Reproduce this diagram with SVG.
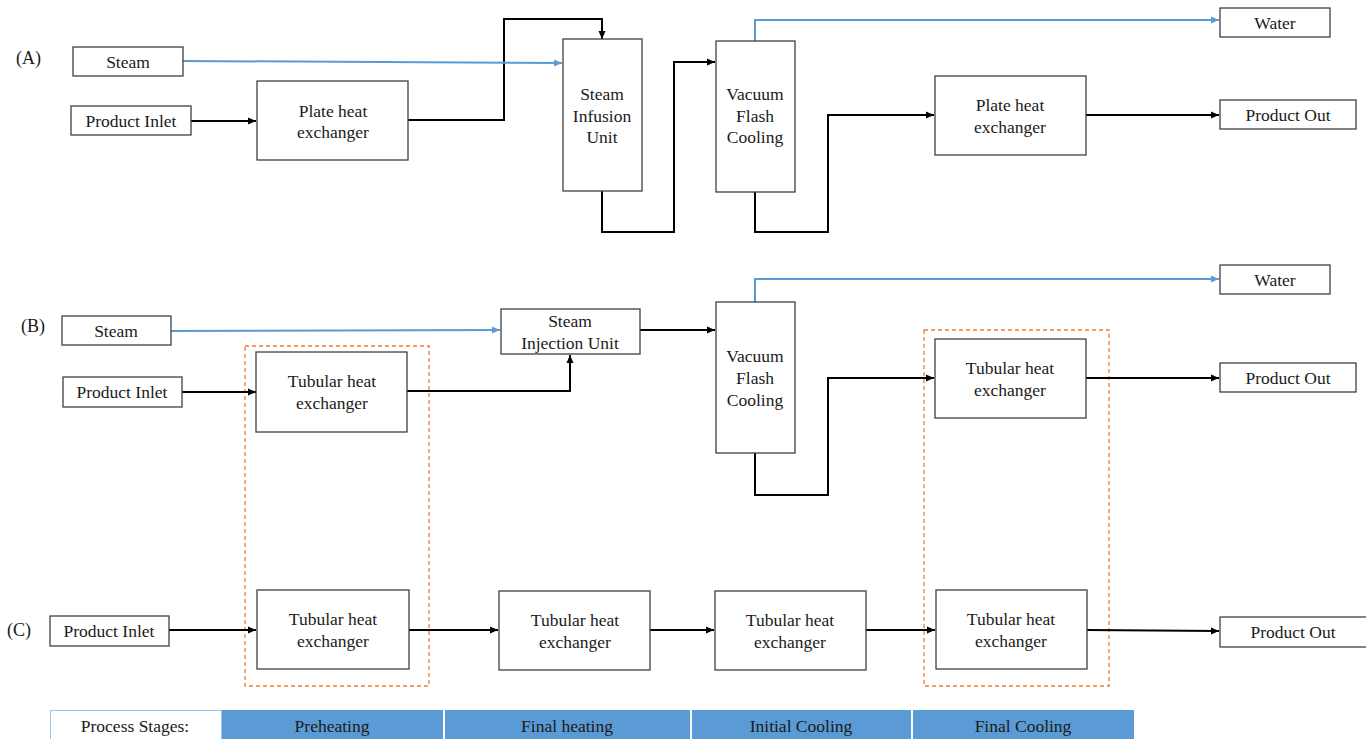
<svg xmlns="http://www.w3.org/2000/svg" width="1366" height="739" viewBox="0 0 1366 739">
<defs>
<marker id="ab" markerUnits="userSpaceOnUse" markerWidth="9" markerHeight="8" refX="8" refY="4" orient="auto"><path d="M0,0.5 L8,4 L0,7.5 z" fill="#000"/></marker>
<marker id="au" markerUnits="userSpaceOnUse" markerWidth="9" markerHeight="8" refX="8" refY="4" orient="auto"><path d="M0,0.5 L8,4 L0,7.5 z" fill="#5b9bd5"/></marker>
<style>
.box{fill:#fff;stroke:#404040;stroke-width:1.3}
.t{font-family:"Liberation Serif","Times New Roman",serif;font-size:17.5px;fill:#1a1a1a;text-anchor:middle}
.lbl{font-family:"Liberation Serif","Times New Roman",serif;font-size:18px;fill:#1a1a1a}
.c{fill:none;stroke:#000;stroke-width:2;marker-end:url(#ab)}
.s{fill:none;stroke:#5b9bd5;stroke-width:2;marker-end:url(#au)}
.dash{fill:none;stroke:#ed7d31;stroke-width:1.3;stroke-dasharray:4 3}
.stage{fill:#5b9bd5}
</style>
</defs>
<rect width="1366" height="739" fill="#fff"/>

<g id="groups">
<rect class="dash" x="245" y="346" width="184" height="340"/>
<rect class="dash" x="924" y="330" width="185" height="356"/>
</g>

<g id="connectors">
<path class="c" d="M191,121 H256"/>
<path class="c" d="M408,120 H504 V19 H602 V39"/>
<path class="s" d="M183,61 L562,63"/>
<path class="c" d="M602,191 V232 H674 V62 H715"/>
<path class="s" d="M755,41 V20 H1219"/>
<path class="c" d="M755,192 V232 H828 V115 H934"/>
<path class="c" d="M1086,115 H1219"/>

<path class="s" d="M171,331 L500,330"/>
<path class="c" d="M182,392 H256"/>
<path class="c" d="M407,391 H570 V355"/>
<path class="c" d="M640,330 H715"/>
<path class="s" d="M755,302 V279 H1219"/>
<path class="c" d="M755,453 V495 H828 V378 H934"/>
<path class="c" d="M1086,378 H1219"/>

<path class="c" d="M169,630 H256"/>
<path class="c" d="M409,630 H498"/>
<path class="c" d="M650,630 H714"/>
<path class="c" d="M866,630 H935"/>
<path class="c" d="M1087,630 L1219,631"/>
</g>

<text class="lbl" x="16" y="64">(A)</text>
<text class="lbl" x="21" y="332">(B)</text>
<text class="lbl" x="7" y="636">(C)</text>

<g id="a-steam"><rect class="box" x="73" y="47" width="110" height="29"/><text class="t" x="128" y="68">Steam</text></g>
<g id="a-inlet"><rect class="box" x="71" y="106" width="120" height="29"/><text class="t" x="131" y="127">Product Inlet</text></g>
<g id="a-phe1"><rect class="box" x="257" y="81" width="151" height="79"/><text class="t" x="333" y="117">Plate heat</text><text class="t" x="333" y="138">exchanger</text></g>
<g id="a-siu"><rect class="box" x="563" y="39" width="79" height="152"/><text class="t" x="602" y="100">Steam</text><text class="t" x="602" y="122">Infusion</text><text class="t" x="602" y="143">Unit</text></g>
<g id="a-vfc"><rect class="box" x="716" y="41" width="79" height="151"/><text class="t" x="755" y="100">Vacuum</text><text class="t" x="755" y="122">Flash</text><text class="t" x="755" y="143">Cooling</text></g>
<g id="a-phe2"><rect class="box" x="935" y="76" width="151" height="79"/><text class="t" x="1010" y="111">Plate heat</text><text class="t" x="1010" y="133">exchanger</text></g>
<g id="a-water"><rect class="box" x="1220" y="8" width="110" height="29"/><text class="t" x="1275" y="29">Water</text></g>
<g id="a-out"><rect class="box" x="1220" y="100" width="136" height="29"/><text class="t" x="1288" y="121">Product Out</text></g>

<g id="b-steam"><rect class="box" x="62" y="316" width="109" height="29"/><text class="t" x="116" y="337">Steam</text></g>
<g id="b-inlet"><rect class="box" x="63" y="377" width="119" height="30"/><text class="t" x="122" y="398">Product Inlet</text></g>
<g id="b-the1"><rect class="box" x="256" y="352" width="151" height="80"/><text class="t" x="332" y="387">Tubular heat</text><text class="t" x="332" y="409">exchanger</text></g>
<g id="b-siu"><rect class="box" x="501" y="309" width="139" height="45"/><text class="t" x="570" y="327">Steam</text><text class="t" x="570" y="349">Injection Unit</text></g>
<g id="b-vfc"><rect class="box" x="716" y="302" width="79" height="151"/><text class="t" x="755" y="362">Vacuum</text><text class="t" x="755" y="384">Flash</text><text class="t" x="755" y="406">Cooling</text></g>
<g id="b-the2"><rect class="box" x="935" y="339" width="151" height="79"/><text class="t" x="1010" y="374">Tubular heat</text><text class="t" x="1010" y="396">exchanger</text></g>
<g id="b-water"><rect class="box" x="1220" y="265" width="110" height="29"/><text class="t" x="1275" y="286">Water</text></g>
<g id="b-out"><rect class="box" x="1220" y="363" width="136" height="29"/><text class="t" x="1288" y="384">Product Out</text></g>

<g id="c-inlet"><rect class="box" x="50" y="616" width="119" height="30"/><text class="t" x="109" y="637">Product Inlet</text></g>
<g id="c-the1"><rect class="box" x="257" y="590" width="152" height="79"/><text class="t" x="333" y="625">Tubular heat</text><text class="t" x="333" y="647">exchanger</text></g>
<g id="c-the2"><rect class="box" x="499" y="591" width="151" height="79"/><text class="t" x="575" y="626">Tubular heat</text><text class="t" x="575" y="648">exchanger</text></g>
<g id="c-the3"><rect class="box" x="715" y="591" width="151" height="79"/><text class="t" x="790" y="626">Tubular heat</text><text class="t" x="790" y="648">exchanger</text></g>
<g id="c-the4"><rect class="box" x="936" y="590" width="151" height="79"/><text class="t" x="1011" y="625">Tubular heat</text><text class="t" x="1011" y="647">exchanger</text></g>
<g id="c-out"><rect class="box" x="1220" y="617" width="150" height="30"/><text class="t" x="1293" y="638">Product Out</text></g>

<g id="stages">
<rect x="50.5" y="710.5" width="171" height="32" fill="#fff" stroke="#9dc3e6" stroke-width="1"/>
<text class="t" x="135" y="732">Process Stages:</text>
<rect class="stage" x="222" y="710" width="221" height="32"/>
<text class="t" x="332" y="732">Preheating</text>
<rect class="stage" x="445" y="710" width="245" height="32"/>
<text class="t" x="567" y="732">Final heating</text>
<rect class="stage" x="692" y="710" width="219" height="32"/>
<text class="t" x="801" y="732">Initial Cooling</text>
<rect class="stage" x="913" y="710" width="221" height="32"/>
<text class="t" x="1023" y="732">Final Cooling</text>
</g>
</svg>
